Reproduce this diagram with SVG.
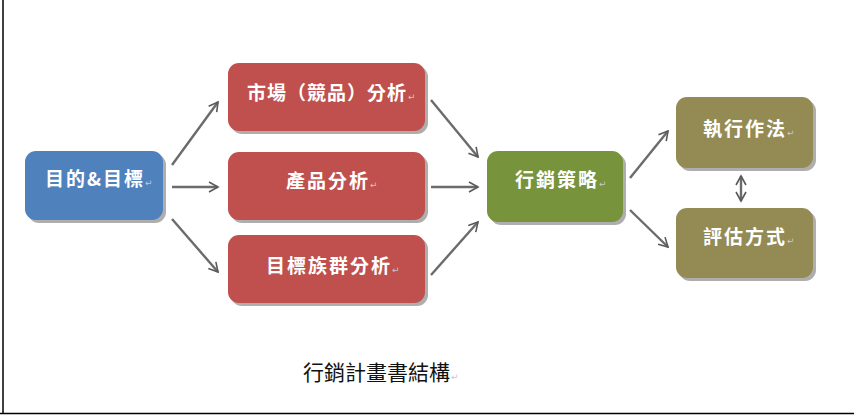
<svg xmlns="http://www.w3.org/2000/svg" width="854" height="416" viewBox="0 0 854 416">
<defs>
<marker id="ah" viewBox="0 0 12 12" refX="10" refY="6" markerWidth="12" markerHeight="12" markerUnits="userSpaceOnUse" orient="auto-start-reverse">
<path d="M1,1 L10,6 L1,11" fill="none" stroke="#5a5a5a" stroke-width="1.6"/>
</marker>
</defs>
<style>
.sh{fill:#9a9a9a;opacity:0.8}
.lbl{font-family:"Noto Sans CJK TC","Noto Sans CJK SC",sans-serif;font-size:19px;font-weight:bold;fill:#ffffff;letter-spacing:2px}
.pm{font-family:"DejaVu Sans",sans-serif;font-size:9px;font-weight:normal;fill:#c8c8c8;letter-spacing:0}
.cap{font-family:"Noto Sans CJK TC","Noto Sans CJK SC",sans-serif;font-size:21px;fill:#111111}
.con{fill:none;stroke:#6b6b6b;stroke-width:2.4;marker-end:url(#ah)}
</style>
<rect x="0" y="0" width="854" height="416" fill="#ffffff"/>
<line x1="3" y1="0" x2="3" y2="414" stroke="#000" stroke-width="1.5"/>
<line x1="0" y1="413.5" x2="854" y2="413.5" stroke="#000" stroke-width="1.5"/>

<g id="connectors">
<path class="con" d="M172,165 L218,102"/>
<path class="con" d="M172,187 L218,187"/>
<path class="con" d="M172,219 L218,272"/>
<path class="con" d="M431,100 L478,157"/>
<path class="con" d="M431,187 L478,187"/>
<path class="con" d="M431,275 L478,222"/>
<path class="con" d="M630,178 L668,131"/>
<path class="con" d="M630,210 L668,247"/>
<path class="con" d="M741,176 L741,201" style="marker-start:url(#ah)"/>
</g>

<g id="node-goal">
<rect class="sh" x="28" y="154" width="138" height="69" rx="11"/>
<rect x="25" y="151" width="138" height="69" rx="11" fill="#4F81BD"/>
<text class="lbl" x="45" y="186">目的&amp;目標<tspan class="pm" dx="0">↵</tspan></text>
</g>

<g id="node-market">
<rect class="sh" x="231" y="66" width="197" height="68" rx="11"/>
<rect x="228" y="63" width="197" height="68" rx="11" fill="#C0504D"/>
<text class="lbl" x="247" y="100" style="letter-spacing:1px">市場（競品）分析<tspan class="pm" dx="1">↵</tspan></text>
</g>

<g id="node-product">
<rect class="sh" x="231" y="155" width="197" height="68" rx="11"/>
<rect x="228" y="152" width="197" height="68" rx="11" fill="#C0504D"/>
<text class="lbl" x="286" y="188">產品分析<tspan class="pm" dx="0">↵</tspan></text>
</g>

<g id="node-target">
<rect class="sh" x="231" y="238" width="197" height="68" rx="11"/>
<rect x="228" y="235" width="197" height="68" rx="11" fill="#C0504D"/>
<text class="lbl" x="266" y="273">目標族群分析<tspan class="pm" dx="0">↵</tspan></text>
</g>

<g id="node-strategy">
<rect class="sh" x="490" y="154" width="136" height="71" rx="11"/>
<rect x="487" y="151" width="136" height="71" rx="11" fill="#77933C"/>
<text class="lbl" x="515" y="187">行銷策略<tspan class="pm" dx="0">↵</tspan></text>
</g>

<g id="node-execute">
<rect class="sh" x="679" y="100" width="137" height="71" rx="11"/>
<rect x="676" y="97" width="137" height="71" rx="11" fill="#948A54"/>
<text class="lbl" x="703" y="136">執行作法<tspan class="pm" dx="0">↵</tspan></text>
</g>

<g id="node-evaluate">
<rect class="sh" x="679" y="211" width="137" height="70" rx="11"/>
<rect x="676" y="208" width="137" height="70" rx="11" fill="#948A54"/>
<text class="lbl" x="703" y="244">評估方式<tspan class="pm" dx="0">↵</tspan></text>
</g>

<g id="caption">
<text class="cap" x="303" y="380">行銷計畫書結構<tspan class="pm" dx="1">↵</tspan></text>
</g>
</svg>
